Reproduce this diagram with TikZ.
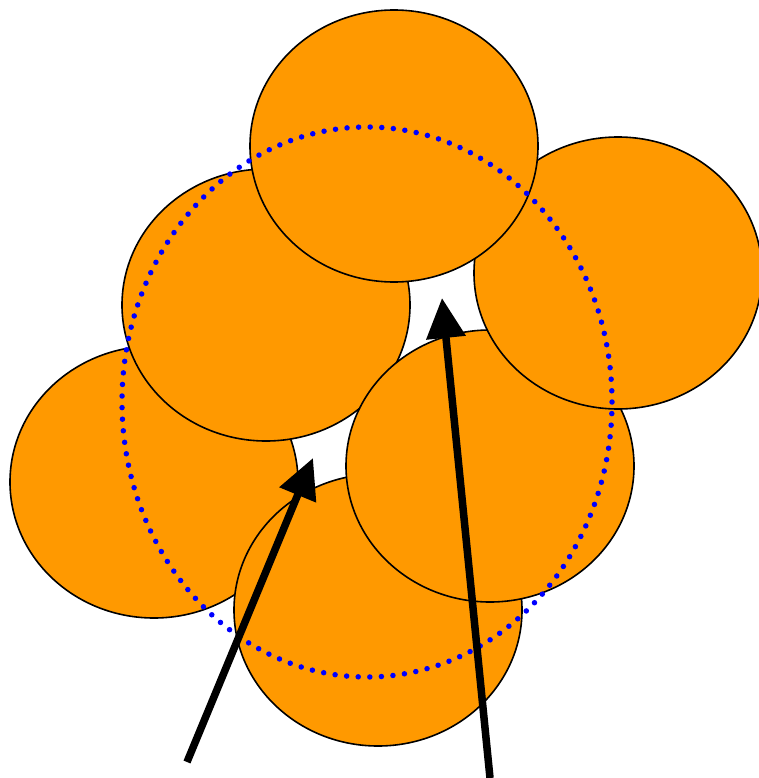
\documentclass[tikz,border=0pt]{standalone}
\usetikzlibrary{arrows.meta}
\definecolor{ball}{RGB}{255,153,0}
\begin{document}
\begin{tikzpicture}[x=1pt,y=-1pt,
  disc/.style={fill=ball,draw=black,line width=1.6pt},
  ring/.style={draw=blue,line width=5.5pt,line cap=round,dash pattern=on 0pt off 11.6pt},
  bigarrow/.style={draw=black,line width=7.5pt,-{Triangle[length=40pt,width=38pt]}}]
\useasboundingbox (0,0) rectangle (758,778);
% discs, back to front
\draw[disc] (154,482) ellipse [x radius=144,y radius=136];
\draw[disc] (266,305) ellipse [x radius=144,y radius=136];
\draw[disc] (378,610) ellipse [x radius=144,y radius=136];
\draw[disc] (490,466) ellipse [x radius=144,y radius=136];
\draw[disc] (618,273) ellipse [x radius=144,y radius=136];
\draw[disc] (394,146) ellipse [x radius=144,y radius=136];
% dotted ring
\draw[ring] (367,402) ellipse [x radius=245,y radius=275];
% arrows
\coordinate (t1) at (187,762);
\coordinate (h1) at (313,458);
\coordinate (t2) at (490,778);
\coordinate (h2) at (442,298);
\draw[bigarrow] (t1) -- (h1);
\draw[bigarrow] (t2) -- (h2);
\end{tikzpicture}
\end{document}
